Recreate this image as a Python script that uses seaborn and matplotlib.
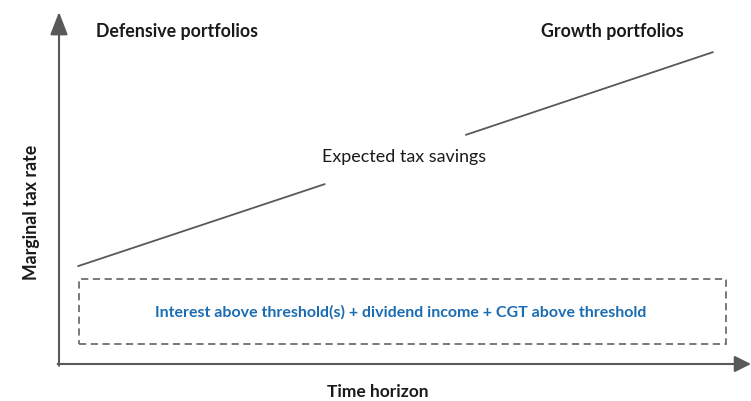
import matplotlib
matplotlib.use("Agg")
import matplotlib.pyplot as plt
import matplotlib.patches as mpatches
import seaborn as sns
import pandas as pd

# ---- data (conceptual units: time horizon 0-100, marginal tax rate 0-100) ----
savings_x = [2.75, 38.4, 58.8, 94.5]
savings_y = [27.8, 51.1, 65.1, 88.6]
savings_segment = ["low", "low", "high", "high"]
band_x = [2.9, 96.4]
band_y = [5.7, 24.1]
label_top_left = "Defensive portfolios"
label_top_right = "Growth portfolios"
label_line = "Expected tax savings"
label_band = "Interest above threshold(s) + dividend income + CGT above threshold"
x_label = "Time horizon"
y_label = "Marginal tax rate"

sns.set_theme(style="white")
plt.rcParams["font.family"] = ["Lato", "DejaVu Sans"]

W, H = 751, 401
fig = plt.figure(figsize=(W / 100, H / 100), dpi=100)
left, bottom, right, top = 59, 364, 751, 12
ax = fig.add_axes([left / W, (H - bottom) / H, (right - left) / W, (bottom - top) / H])
ax.set_xlim(0, 100)
ax.set_ylim(0, 100)
for s in ax.spines.values():
    s.set_visible(False)
ax.set_xticks([])
ax.set_yticks([])
ax.patch.set_alpha(0)

axis_color = "#595959"
df = pd.DataFrame({"x": savings_x, "y": savings_y, "seg": savings_segment})
sns.lineplot(data=df, x="x", y="y", units="seg", estimator=None, color="#595959",
             linewidth=1.3, ax=ax, legend=False)
ax.set_xlabel("")
ax.set_ylabel("")

rect = mpatches.Rectangle((band_x[0], band_y[0]), band_x[1] - band_x[0], band_y[1] - band_y[0],
                          fill=False, edgecolor="#6e6e6e", linewidth=1.3,
                          linestyle=(0, (4, 2.5)))
ax.add_patch(rect)

# axes arrows
ax.annotate("", xy=(0, 1), xytext=(0, -0.005), xycoords="axes fraction",
            arrowprops=dict(arrowstyle="-|>,head_length=14,head_width=5.4", mutation_scale=1,
                            color=axis_color, lw=1.5, shrinkA=0, shrinkB=0), annotation_clip=False)
ax.annotate("", xy=(1, 0), xytext=(-0.002, 0), xycoords="axes fraction",
            arrowprops=dict(arrowstyle="-|>,head_length=10,head_width=5", mutation_scale=1,
                            color=axis_color, lw=1.5, shrinkA=0, shrinkB=0), annotation_clip=False)

# texts
fig.text(401 / W, 1 - 312 / H, label_band, ha="center", va="center", color="#1b6db3",
         fontsize=11.5, fontweight="bold")
fig.text(404 / W, 1 - 157 / H, label_line, ha="center", va="center", fontsize=12.9,
         color="#1a1a1a")
fig.text(177 / W, 1 - 31 / H, label_top_left, ha="center", va="center", fontsize=12.8,
         fontweight="bold", color="#1a1a1a")
fig.text(612 / W, 1 - 31 / H, label_top_right, ha="center", va="center", fontsize=12.8,
         fontweight="bold", color="#1a1a1a")
fig.text(378 / W, 1 - 392 / H, x_label, ha="center", va="center", fontsize=12.5,
         fontweight="bold", color="#1a1a1a")
fig.text(32 / W, 1 - 212 / H, y_label, ha="center", va="center", rotation=90, fontsize=12.8,
         fontweight="bold", color="#1a1a1a")

fig.savefig("out.png", dpi=100)
